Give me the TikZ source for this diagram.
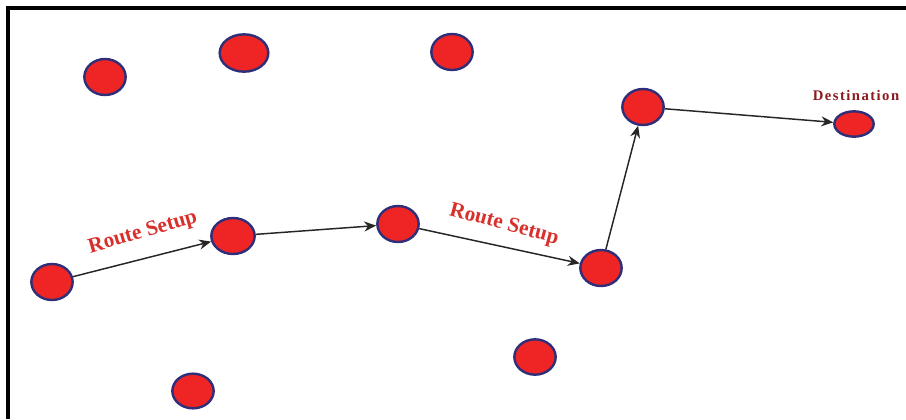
\documentclass[tikz,border=0pt]{standalone}
\usepackage{fontspec}
\setmainfont{Liberation Serif}
\usetikzlibrary{arrows.meta,shapes.geometric}
\definecolor{NodeRed}{HTML}{EE2524}
\definecolor{NodeRim}{HTML}{2E2F78}
\definecolor{TagRed}{HTML}{D8302C}
\definecolor{DestRed}{HTML}{8A1A1E}
\tikzset{
  nd/.style={ellipse,draw=NodeRim,fill=NodeRed,line width=1.8pt,inner sep=0pt,minimum width=31pt,minimum height=27pt},
  lnk/.style={draw=black!85,line width=1.1pt,-{Stealth[length=9pt,width=7.5pt]}},
  rlab/.style={font=\fontsize{16}{18}\selectfont\bfseries,text=TagRed,inner sep=0pt},
  dlab/.style={font=\fontsize{11}{13}\selectfont\bfseries\addfontfeature{LetterSpace=10},text=DestRed,inner sep=0pt},
}
\begin{document}
\begin{tikzpicture}[x=0.75pt,y=-0.75pt]
% Pixel grid of the reference, y pointing down.
\useasboundingbox (0,0) rectangle (906,419);
\fill[white] (0,0) rectangle (906,419);
\draw[line width=2.4pt] (8,419) -- (8,8) -- (906,8);
% Idle nodes.
\node[nd] (n1) at (105,77) {};
\node[nd,minimum width=36.5pt,minimum height=28pt] (n2) at (244,53) {};
\node[nd] (n3) at (452,52) {};
\node[nd,minimum height=26pt] (n10) at (193,391) {};
\node[nd,minimum height=26.5pt] (n11) at (535,357) {};
% Nodes on the route.
\node[nd] (src) at (52,282) {};
\node[nd,minimum width=32.5pt] (n7) at (233,236) {};
\node[nd] (n8) at (398,224) {};
\node[nd] (n9) at (601,268) {};
\node[nd] (n4) at (643,107) {};
\node[nd,minimum width=29.5pt,minimum height=19pt] (dst) at (854,124) {};
\draw[lnk] (src) -- (n7);
\draw[lnk] (n7) -- (n8);
\draw[lnk] (n8) -- (n9);
\draw[lnk] (n9) -- (n4);
\draw[lnk] (n4) -- (dst);
\node[rlab,rotate=16] (t1) at (143,233) {Route Setup};
\node[rlab,rotate=-15] (t2) at (504,225) {Route Setup};
\node[dlab] (dt) at (856,95) {Destination};
\end{tikzpicture}
\end{document}
